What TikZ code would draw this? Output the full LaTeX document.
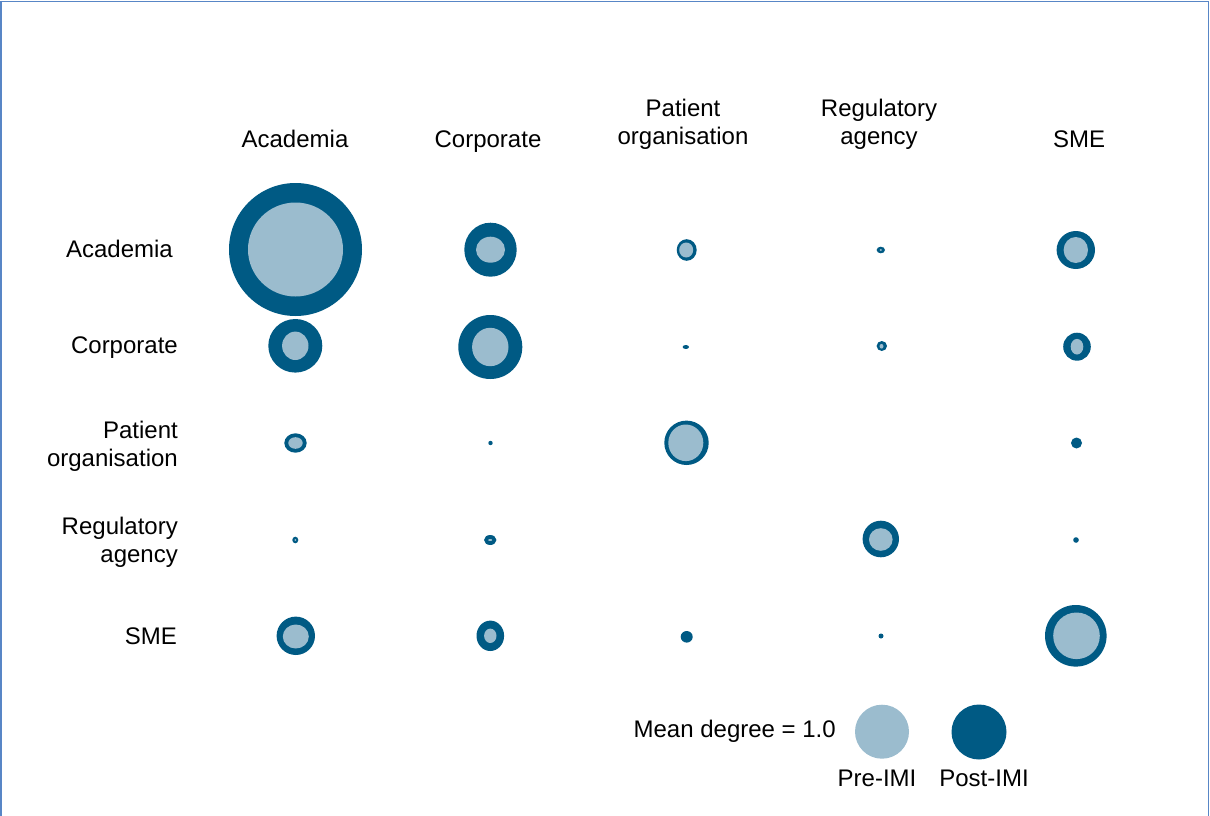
\documentclass[tikz,border=0pt]{standalone}
\usepackage{fontspec}
\setmainfont{Liberation Sans}
\usepackage{tikz}
\definecolor{postimi}{RGB}{0,90,132}
\definecolor{preimi}{RGB}{155,188,206}
\definecolor{framecol}{RGB}{88,134,198}

\begin{document}
\begin{tikzpicture}[x=1pt,y=-1pt,
    post/.style={fill=postimi},
    pre/.style={fill=preimi},
    lab/.style={font=\fontsize{24}{28}\selectfont,inner sep=0pt},
    frame/.style={draw=framecol,line width=1.8pt}]
  \useasboundingbox (0,0) rectangle (1210,816);
  \draw[frame] (1,816) -- (1,1.5) -- (1208.5,1.5) -- (1208.5,816);
  % column heads
  \node[lab,anchor=base]                   (hdAcad) at ( 295,147.5) {Academia};
  \node[lab,anchor=base]                   (hdCorp) at ( 488,147.5) {Corporate};
  \node[lab,anchor=base,align=center]      (hdPat)  at ( 683,144.5) {Patient\\organisation};
  \node[lab,anchor=base,align=center]      (hdReg)  at ( 879,144.5) {Regulatory\\agency};
  \node[lab,anchor=base]                   (hdSME)  at (1079,147.5) {SME};
  % row heads
  \node[lab,anchor=base east]              (rwAcad) at ( 173,257.5) {Academia};
  \node[lab,anchor=base east]              (rwCorp) at ( 178,353.5) {Corporate};
  \node[lab,anchor=base east,align=right]  (rwPat)  at ( 178,466.5) {Patient\\organisation};
  \node[lab,anchor=base east,align=right]  (rwReg)  at ( 178,562.5) {Regulatory\\agency};
  \node[lab,anchor=base east]              (rwSME)  at ( 177,644.5) {SME};
  % Academia row
  \fill[post] ( 295.5,249.5) ellipse [x radius=66.5pt,y radius=66.5pt];
  \fill[pre]  ( 295.5,249.5) ellipse [x radius=47.5pt,y radius=47pt];
  \fill[post] ( 490.5,249.7) ellipse [x radius=26.2pt,y radius=27pt];
  \fill[pre]  ( 490.5,249.7) ellipse [x radius=14.5pt,y radius=13pt];
  \fill[post] ( 686.7,250)   ellipse [x radius=10pt,y radius=10.8pt];
  \fill[pre]  ( 686.2,250)   ellipse [x radius=7pt,y radius=7.5pt];
  \fill[post] ( 880.8,250)   ellipse [x radius=4.2pt,y radius=3.3pt];
  \fill[pre]  ( 880.8,250)   ellipse [x radius=1.3pt,y radius=1pt];
  \fill[post] (1075.8,250)   ellipse [x radius=19.2pt,y radius=19pt];
  \fill[pre]  (1075.8,250)   ellipse [x radius=12.2pt,y radius=13pt];
  % Corporate row
  \fill[post] ( 295.3,345.8) ellipse [x radius=27pt,y radius=26.8pt];
  \fill[pre]  ( 295.3,345.8) ellipse [x radius=13.2pt,y radius=14.2pt];
  \fill[post] ( 490.3,347)   ellipse [x radius=32pt,y radius=32pt];
  \fill[pre]  ( 490.3,347)   ellipse [x radius=18.2pt,y radius=19.2pt];
  \fill[post] ( 685.8,347)   ellipse [x radius=3.2pt,y radius=2pt];
  \fill[post] ( 881.8,346)   ellipse [x radius=5.2pt,y radius=5pt];
  \fill[pre]  ( 881.5,346.3) ellipse [x radius=2pt,y radius=2.3pt];
  \fill[post] (1077,346.7)   ellipse [x radius=13.8pt,y radius=14pt];
  \fill[pre]  (1077,346.7)   ellipse [x radius=6.3pt,y radius=7.8pt];
  % Patient organisation row
  \fill[post] ( 295.5,443)   ellipse [x radius=11.2pt,y radius=9.7pt];
  \fill[pre]  ( 295.5,443)   ellipse [x radius=7.2pt,y radius=5.8pt];
  \fill[post] ( 490.5,443)   ellipse [x radius=2.2pt,y radius=2.2pt];
  \fill[post] ( 686.5,442.8) ellipse [x radius=22.2pt,y radius=22.2pt];
  \fill[pre]  ( 685.8,442.8) ellipse [x radius=17.5pt,y radius=18.3pt];
  \fill[post] (1076.5,443)   ellipse [x radius=5.5pt,y radius=5.5pt];
  % Regulatory agency row
  \fill[post] ( 295.3,540)   ellipse [x radius=3pt,y radius=3.3pt];
  \fill[pre]  ( 295.3,540)   ellipse [x radius=1pt,y radius=1pt];
  \fill[post] ( 490.2,540)   ellipse [x radius=6.2pt,y radius=5pt];
  \fill[pre]  ( 490.2,540)   ellipse [x radius=2pt,y radius=1pt];
  \fill[post] ( 880.8,539)   ellipse [x radius=18.2pt,y radius=18.3pt];
  \fill[pre]  ( 880.8,539.5) ellipse [x radius=11.8pt,y radius=11.3pt];
  \fill[post] (1076,540)     ellipse [x radius=2.8pt,y radius=2.8pt];
  % SME row
  \fill[post] ( 295.8,635.8) ellipse [x radius=19.2pt,y radius=19.2pt];
  \fill[pre]  ( 295.8,636.5) ellipse [x radius=13pt,y radius=12pt];
  \fill[post] ( 490.3,635.8) ellipse [x radius=13.8pt,y radius=15.2pt];
  \fill[pre]  ( 490.3,635.8) ellipse [x radius=6.2pt,y radius=7.2pt];
  \fill[post] ( 686.7,636.8) ellipse [x radius=6pt,y radius=5.8pt];
  \fill[post] ( 881,636)     ellipse [x radius=2.5pt,y radius=2.5pt];
  \fill[post] (1075.8,635.8) ellipse [x radius=30.8pt,y radius=30.8pt];
  \fill[pre]  (1076.5,635.8) ellipse [x radius=23.3pt,y radius=23.3pt];
  % legend
  \node[lab,anchor=east]  (lgMean) at (836,731.5) {Mean degree = 1.0};
  \node[circle,pre,inner sep=0pt,minimum size=54pt]  (keyPre)  at (882,731.7) {};
  \node[circle,post,inner sep=0pt,minimum size=55pt] (keyPost) at (979,732)   {};
  \node[lab,anchor=base] (lgPre)  at (877,786) {Pre-IMI};
  \node[lab,anchor=base] (lgPost) at (984,786) {Post-IMI};
\end{tikzpicture}
\end{document}
